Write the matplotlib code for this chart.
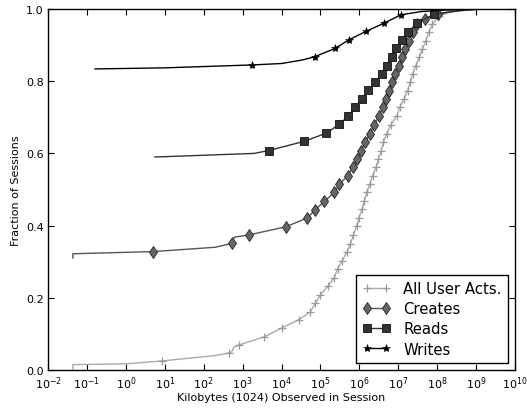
import numpy as np
import matplotlib
matplotlib.use("Agg")
import matplotlib.pyplot as plt

# ---- data (log10 of kilobytes, fraction of sessions) ----
labels = ["All User Acts.", "Creates", "Reads", "Writes"]

all_line_logx = [-1.36, -1.36, 0.0, 2.3, 2.72, 2.78, 8.3, 8.7, 9.0, 9.3]
all_line_y    = [0.003, 0.015, 0.017, 0.040, 0.050, 0.064, 0.990, 0.996, 0.999, 1.0]
all_mark_logx = [0.92, 2.64, 2.9, 3.56, 4.0, 4.44, 4.74, 4.87, 5.0, 5.19, 5.36, 5.44,
                 5.56, 5.68, 5.77, 5.85, 5.93, 5.99, 6.07, 6.13, 6.19, 6.27, 6.34,
                 6.43, 6.49, 6.56, 6.62, 6.70, 6.81, 6.96, 7.04, 7.15, 7.24, 7.31,
                 7.37, 7.45, 7.54, 7.62, 7.71, 7.78, 7.88, 8.05]
all_mark_y    = [0.025, 0.047, 0.069, 0.092, 0.116, 0.139, 0.161, 0.185, 0.208, 0.232,
                 0.256, 0.280, 0.303, 0.327, 0.350, 0.375, 0.399, 0.421, 0.446, 0.469,
                 0.492, 0.515, 0.538, 0.561, 0.584, 0.607, 0.631, 0.654, 0.679, 0.704,
                 0.728, 0.751, 0.774, 0.797, 0.820, 0.843, 0.866, 0.889, 0.912, 0.935,
                 0.958, 0.981]

cre_line_logx = [-1.36, -1.36, 2.3, 2.72, 2.79, 8.5, 9.0, 9.3]
cre_line_y    = [0.310, 0.322, 0.340, 0.352, 0.368, 0.995, 0.999, 1.0]
cre_mark_logx = [0.70, 2.74, 3.16, 4.12, 4.66, 4.87, 5.10, 5.36, 5.49, 5.70, 5.83, 5.94,
                 6.04, 6.15, 6.27, 6.38, 6.51, 6.60, 6.68, 6.77, 6.84, 6.92, 7.01,
                 7.09, 7.18, 7.28, 7.37, 7.49, 7.68, 8.03]
cre_mark_y    = [0.328, 0.351, 0.374, 0.397, 0.421, 0.444, 0.467, 0.492, 0.515, 0.538,
                 0.561, 0.584, 0.607, 0.631, 0.654, 0.679, 0.704, 0.728, 0.751, 0.774,
                 0.797, 0.820, 0.843, 0.866, 0.889, 0.912, 0.935, 0.958, 0.972, 0.986]

rea_line_logx = [0.75, 3.3, 8.5, 9.0, 9.3]
rea_line_y    = [0.590, 0.600, 0.995, 0.999, 1.0]
rea_mark_logx = [3.67, 4.57, 5.15, 5.49, 5.72, 5.89, 6.06, 6.23, 6.41, 6.57, 6.70, 6.83,
                 6.94, 7.09, 7.26, 7.49, 7.92]
rea_mark_y    = [0.608, 0.633, 0.656, 0.681, 0.704, 0.728, 0.751, 0.776, 0.797, 0.820,
                 0.843, 0.868, 0.891, 0.915, 0.937, 0.961, 0.986]

wri_line_logx = [-0.79, 1.0, 4.0, 4.55, 7.6, 8.2, 8.8, 9.3]
wri_line_y    = [0.834, 0.837, 0.849, 0.859, 0.993, 0.997, 0.999, 1.0]
wri_mark_logx = [3.24, 4.86, 5.38, 5.74, 6.17, 6.64, 7.07]
wri_mark_y    = [0.845, 0.868, 0.891, 0.915, 0.938, 0.961, 0.984]

series = [
    (all_line_logx, all_line_y, all_mark_logx, all_mark_y,
     dict(color="#aaaaaa", marker="+", mec="#999999", mfc="#aaaaaa", ms=6, mew=0.9)),
    (cre_line_logx, cre_line_y, cre_mark_logx, cre_mark_y,
     dict(color="#555555", marker="d", mec="#222222", mfc="#666666", ms=6.5, mew=0.6)),
    (rea_line_logx, rea_line_y, rea_mark_logx, rea_mark_y,
     dict(color="#333333", marker="s", mec="#111111", mfc="#333333", ms=5.3, mew=0.6)),
    (wri_line_logx, wri_line_y, wri_mark_logx, wri_mark_y,
     dict(color="#000000", marker="*", mec="#000000", mfc="#000000", ms=6, mew=0.4)),
]

plt.rcParams["mathtext.fontset"] = "dejavusans"
fig = plt.figure(figsize=(5.27, 4.10), dpi=100)
ax = fig.add_axes([48 / 527, 39 / 410, 467 / 527, 361 / 410])

for (lx, ly, mx, my, st), lab in zip(series, labels):
    px = np.concatenate([lx, mx])
    py = np.concatenate([ly, my])
    flag = np.concatenate([np.zeros(len(lx), bool), np.ones(len(mx), bool)])
    order = np.lexsort((px, py))
    px, py, flag = px[order], py[order], flag[order]
    ax.plot(10 ** px, py, lw=1.0, label=lab, markevery=list(np.nonzero(flag)[0]), **st)

ax.set_xscale("log")
ax.set_xlim(1e-2, 1e10)
ax.set_ylim(0, 1)
ax.set_xticks([10.0 ** k for k in range(-2, 11)])
ax.xaxis.set_minor_locator(matplotlib.ticker.NullLocator())
ax.set_yticks([0.0, 0.2, 0.4, 0.6, 0.8, 1.0])
ax.set_yticklabels(["0.0", "0.2", "0.4", "0.6", "0.8", "1.0"])
ax.tick_params(direction="in", top=True, right=True, length=4, width=0.8,
               labelsize=8, pad=3)
for s in ax.spines.values():
    s.set_linewidth(1.0)
ax.set_xlabel("Kilobytes (1024) Observed in Session", fontsize=8, labelpad=1)
ax.set_ylabel("Fraction of Sessions", fontsize=8, labelpad=4)

leg = ax.legend(loc="lower right", fontsize=10.7, numpoints=2, fancybox=False,
                framealpha=1, edgecolor="black", labelspacing=0.35,
                handlelength=1.9, borderpad=0.4, handletextpad=0.85,
                borderaxespad=0.5)
leg.get_frame().set_linewidth(1.0)

fig.savefig("out.png", dpi=100)
